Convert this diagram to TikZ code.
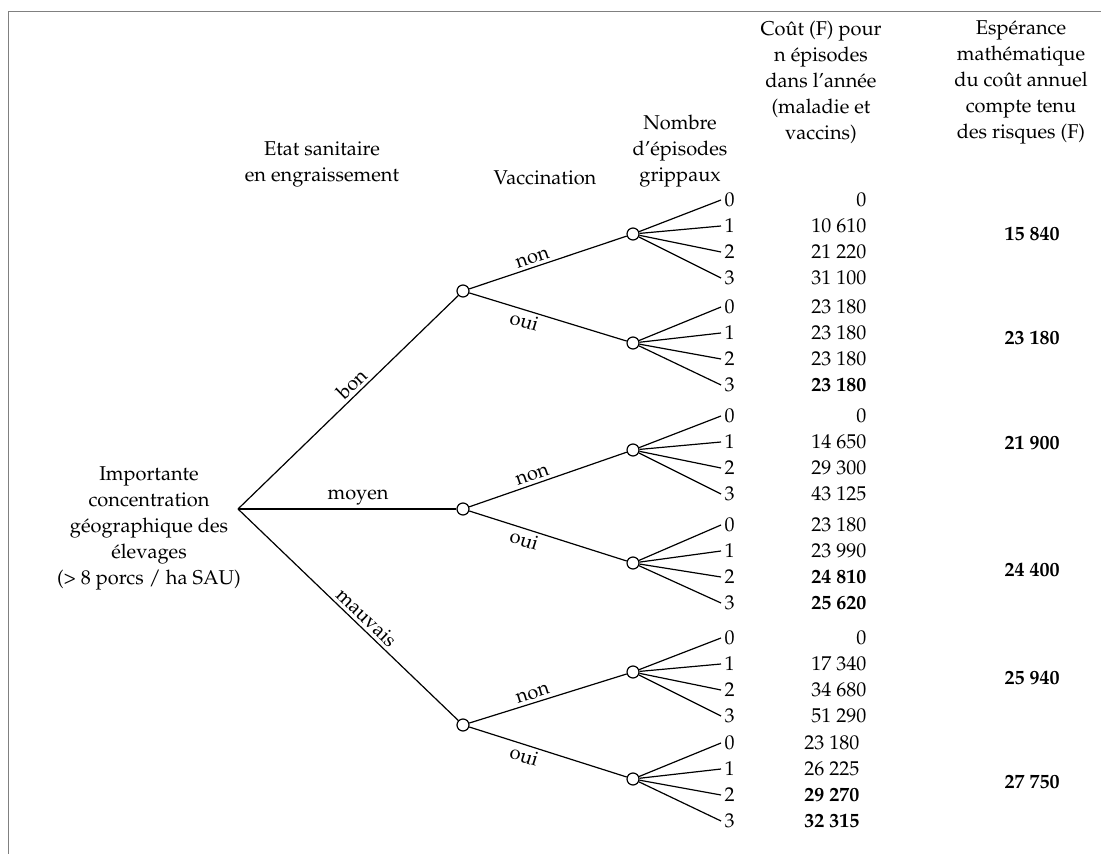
\documentclass[tikz,border=0pt]{standalone}
\usepackage[T1]{fontenc}
\usepackage{mathpazo}
\usetikzlibrary{positioning}

\tikzset{
  chance/.style={circle, draw, fill=white, inner sep=0pt, minimum size=6pt},
  branchlab/.style={sloped, above, pos=0.55, inner sep=1.5pt},
  colhead/.style={align=center},
  episode/.style={anchor=west, inner sep=1.5pt},
  cost/.style={anchor=east, inner sep=0pt},
  expect/.style={font=\bfseries},
}

\begin{document}
\begin{tikzpicture}[x=0.5pt, y=-0.5pt, line width=0.6pt, font=\fontsize{10}{13}\selectfont]
\useasboundingbox (0,0) rectangle (1101,854);

% what is left of the frame
\draw[black!50, line width=0.4pt] (8,854) -- (8,11) -- (1101,11);

% column heads
\node[colhead] (hetat) at (322,164) {Etat sanitaire\\en engraissement};
\node[colhead] (hvacc) at (545,178) {Vaccination};
\node[colhead] (hnb) at (680,151) {Nombre\\d'épisodes\\grippaux};
\node[colhead] (hcost) at (821,82) {Coût (F) pour\\n épisodes\\dans l'année\\(maladie et\\vaccins)};
\node[colhead] (hesp) at (1021,82) {Espérance\\mathématique\\du coût annuel\\compte tenu\\des risques (F)};

% root and first level
\coordinate (root) at (238,509);
\node[colhead] (site) at (149,528) {Importante\\concentration\\géographique des\\élevages\\(> 8 porcs / ha SAU)};
\node[chance] (bon) at (463,291) {};
\node[chance] (moyen) at (463,509) {};
\node[chance] (mauvais) at (463,725) {};
\draw (root) -- node[branchlab] {bon} (bon);
\draw (root) -- node[branchlab] {moyen} (moyen);
\draw (root) -- node[branchlab] {mauvais} (mauvais);

% vaccination nodes, episodes, costs and expectation
\foreach \g/\ny/\ya/\cx/\ca/\cb/\cc/\cd/\e/\ey in {
  bon-non/234/200/867/0/10~610/21~220/31~100/15~840/234,
  bon-oui/343/307/867/23~180/23~180/23~180/\textbf{23~180}/23~180/338,
  moyen-non/450/416/867/0/14~650/29~300/43~125/21~900/443,
  moyen-oui/563/525/867/23~180/23~990/\textbf{24~810}/\textbf{25~620}/24~400/570,
  mauvais-non/672/638/867/0/17~340/34~680/51~290/25~940/678,
  mauvais-oui/779/743/860/23~180/26~225/\textbf{29~270}/\textbf{32~315}/27~750/782}
{
  \node[chance] (\g) at (633,\ny) {};
  \foreach \n/\c in {0/\ca,1/\cb,2/\cc,3/\cd} {
    \node[episode] (\g-\n) at (721,{\ya+26*\n}) {\n};
    \draw (\g) -- (\g-\n.west);
    \node[cost] (\g-c\n) at (\cx,{\ya+26*\n}) {\c};
  }
  \node[expect] (\g-esp) at (1032,\ey) {\e};
}

\foreach \s in {bon,moyen,mauvais} {
  \draw (\s) -- node[sloped, above, pos=0.42, inner sep=1.5pt] {non} (\s-non);
  \draw (\s) -- node[sloped, below, pos=0.37, inner sep=1.5pt] {oui} (\s-oui);
}
\end{tikzpicture}
\end{document}
